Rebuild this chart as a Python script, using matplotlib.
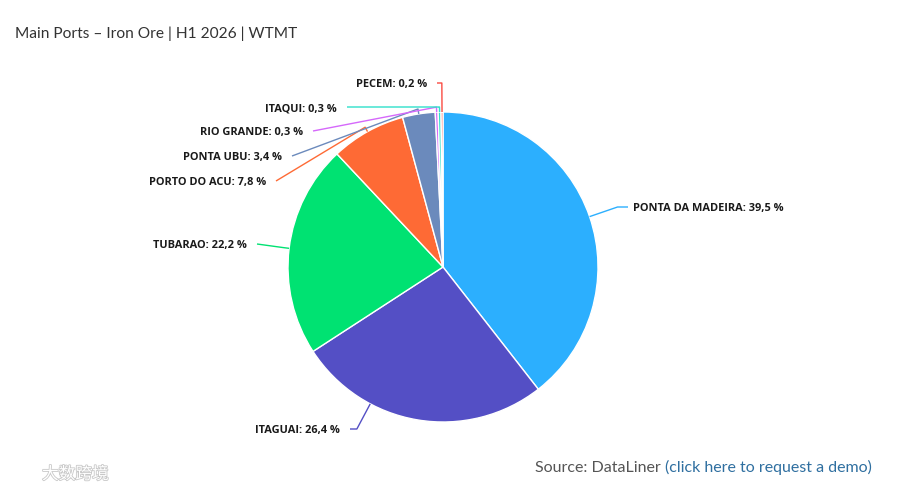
import numpy as np
import matplotlib
matplotlib.use("Agg")
import matplotlib.pyplot as plt
import matplotlib.patheffects as pe

# data
ports = ["PONTA DA MADEIRA", "ITAGUAI", "TUBARAO", "PORTO DO ACU",
         "PONTA UBU", "RIO GRANDE", "ITAQUI", "PECEM"]
shares = [39.5, 26.4, 22.2, 7.8, 3.4, 0.3, 0.3, 0.2]
colors = ["#2caffe", "#544fc5", "#00e272", "#fe6a35",
          "#6b8abc", "#d568fb", "#2ee0ca", "#fa4b42"]

title = "Main Ports \u2013 Iron Ore | H1 2026 | WTMT"

W, H = 900, 491
CX, CY, R = 443, 267, 155      # pie centre / radius in image pixels

# label anchor (where the connector starts), image pixels
label_pos = {
    "PONTA DA MADEIRA": (628, 207, "left"),
    "ITAGUAI": (350, 429, "right"),
    "TUBARAO": (257, 244, "right"),
    "PORTO DO ACU": (276, 181, "right"),
    "PONTA UBU": (292, 156, "right"),
    "RIO GRANDE": (313, 131, "right"),
    "ITAQUI": (347, 107, "right"),
    "PECEM": (437, 83, "right"),
}
# connector touches slice here instead of mid angle (math degrees)
touch_override = {"ITAGUAI": -118}


def Y(y):
    return H - y


fig = plt.figure(figsize=(9, 4.91), dpi=100)
ax = fig.add_axes([0, 0, 1, 1])

wedges, _ = ax.pie(shares, colors=colors, startangle=90, counterclock=False,
                   center=(CX, Y(CY)), radius=R,
                   wedgeprops=dict(edgecolor="white", linewidth=1))

ax.set_xlim(0, W)
ax.set_ylim(0, H)
ax.set_aspect("equal")
ax.axis("off")

for w, name, val, col in zip(wedges, ports, shares, colors):
    mid = np.deg2rad(touch_override.get(name, (w.theta1 + w.theta2) / 2))
    cx, cy = CX, Y(CY)
    tx, ty = cx + R * np.cos(mid), cy + R * np.sin(mid)
    bx, by = cx + (R + 5) * np.cos(mid), cy + (R + 5) * np.sin(mid)
    lx, ly_img, side = label_pos[name]
    ly = Y(ly_img)
    xs, ys = [lx], [ly]
    t = np.tan(mid)
    if abs(t) > 1e-9:
        crook = cx + (ly - cy) / t
        if side == "left":
            ok = bx <= crook <= lx
        else:
            ok = lx <= crook <= bx
        if ok:
            xs.append(crook)
            ys.append(ly)
    xs += [bx, tx]
    ys += [by, ty]
    ax.plot(xs, ys, color=col, lw=1, solid_capstyle="butt")

    txt = f"{name}: " + f"{val:.1f}".replace(".", ",") + " %"
    if side == "left":
        ax.text(lx + 5, ly - 4, txt, ha="left", va="baseline",
                fontsize=7.9, fontweight="bold", color="#1a1a1a",
                family="Open Sans")
    else:
        ax.text(lx - 10, ly - 4, txt, ha="right", va="baseline",
                fontsize=7.9, fontweight="bold", color="#1a1a1a",
                family="Open Sans")

fig.text(15 / W, 1 - 38 / H, title, ha="left", va="baseline",
         fontsize=11.2, color="#333333", family="Lato")

src = fig.text(535 / W, 1 - 472 / H, "Source: DataLiner ", ha="left",
               va="baseline", fontsize=11.5, color="#555555", family="Lato")
fig.canvas.draw()
bb = src.get_window_extent()
fig.text(bb.x1 / W, 1 - 472 / H, "(click here to request a demo)",
         ha="left", va="baseline", fontsize=11.5, color="#2f6fa0", family="Lato")

# faint watermark
fig.text(42 / W, 1 - 479 / H, "大数跨境", ha="left", va="baseline",
         fontsize=12, color="white",
         family=["Noto Sans CJK SC", "DejaVu Sans"],
         path_effects=[pe.withStroke(linewidth=1.2, foreground="#c8c8c8")])

fig.savefig("out.png", dpi=100, facecolor="white")
